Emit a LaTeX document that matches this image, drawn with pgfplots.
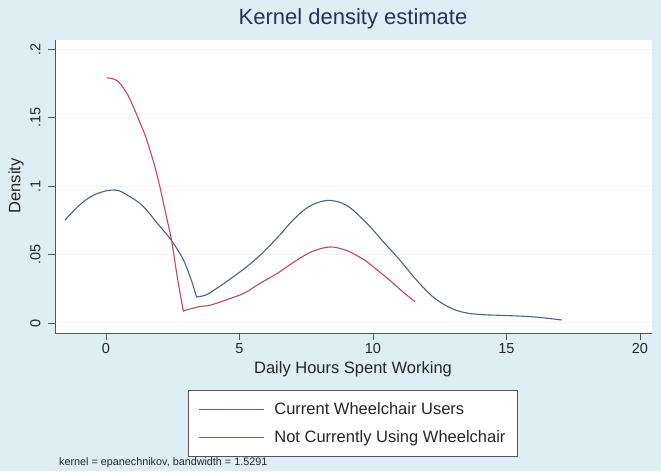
\documentclass[border=0pt]{standalone}
\usepackage{fontspec}
\setmainfont{Liberation Sans}
\usepackage{pgfplots}
\pgfplotsset{compat=1.18}
\definecolor{bgc}{RGB}{221,239,245}
\definecolor{sblue}{RGB}{75,98,142}
\definecolor{sred}{RGB}{192,75,88}
\definecolor{gridc}{RGB}{240,245,247}
\definecolor{axc}{RGB}{85,85,85}
\definecolor{titc}{RGB}{35,52,95}
\begin{document}
\begin{tikzpicture}[x=1pt,y=1pt]
\fill[bgc] (0,0) rectangle (661,471);
\useasboundingbox (0,0) rectangle (661,471);
\fill[white] (55,138) rectangle (652,431);
\begin{axis}[
  at={(55pt,138pt)}, anchor=south west,
  scale only axis, width=597pt, height=293pt,
  xmin=-1.91, xmax=20.45, ymin=-0.0073, ymax=0.2066,
  axis x line*=bottom, axis y line*=left,
  axis line style={-, axc, line width=0.9pt},
  tick align=outside, major tick length=7pt,
  tick style={axc, line width=0.9pt},
  xtick={0,5,10,15,20}, xticklabels={0,5,10,15,20},
  ytick={0,0.05,0.1,0.15,0.2}, yticklabels={0,.05,.1,.15,.2},
  /pgf/number format/assume math mode=true,
  ticklabel style={font=\fontsize{14.5}{16}\selectfont, text=black!85},
  yticklabel style={rotate=90, anchor=south},
  yticklabel shift=4pt,
  ymajorgrids, major grid style={gridc, line width=1pt},
  legend style={at={(0.499,-0.1945)}, anchor=north, draw=axc, line width=0.9pt,
    fill=white, font=\fontsize{16.5}{19}\selectfont, text=black!85,
    inner xsep=10pt, inner ysep=10pt, row sep=11pt, column sep=8pt,
    nodes={inner sep=2pt}},
  legend cell align=left,
  legend image code/.code={\draw[#1] (0pt,0pt) -- (65pt,0pt);},
]
\addplot[sblue, line width=1.1pt, smooth, tension=0.55] coordinates {
(-1.54,0.075) (-1.0,0.086) (-0.5,0.093) (0.0,0.0965) (0.2,0.097) (0.5,0.0965)
(1.0,0.091) (1.4,0.085) (2.0,0.071) (2.46,0.060) (2.9,0.046) (3.2,0.031)
(3.36,0.021) (3.40,0.019) (3.45,0.0192) (3.8,0.021) (4.5,0.030) (5.2,0.040) (5.8,0.050) (6.5,0.064)
(7.0,0.075) (7.6,0.085) (8.3,0.0895) (9.0,0.086) (9.76,0.073) (10.4,0.059)
(11.0,0.046) (11.6,0.032) (12.25,0.019) (12.9,0.011) (13.5,0.0073) (14.2,0.006)
(14.76,0.0056) (16.0,0.0045) (17.07,0.0022)
};
\addlegendentry{Current Wheelchair Users}
\addplot[sred, line width=1.1pt, smooth, tension=0.55] coordinates {
(0.02,0.179) (0.3,0.178) (0.52,0.175) (0.8,0.167) (1.02,0.158) (1.3,0.145)
(1.52,0.134) (1.9,0.109) (2.27,0.077) (2.46,0.060) (2.65,0.036) (2.86,0.0125) (2.90,0.009)
(2.96,0.0092) (3.5,0.012) (3.9,0.013) (4.52,0.017) (5.2,0.022) (5.77,0.029) (6.4,0.036)
(7.0,0.044) (7.7,0.052) (8.39,0.0555) (9.0,0.053) (9.51,0.048) (9.76,0.045)
(10.2,0.038) (10.64,0.031) (11.1,0.023) (11.57,0.0156)
};
\addlegendentry{Not Currently Using Wheelchair}
\end{axis}
\node[titc, font=\fontsize{22}{26}\selectfont] at (353,452) {Kernel density estimate};
\node[black!85, font=\fontsize{16.5}{19}\selectfont] at (353,102) {Daily Hours Spent Working};
\node[black!85, rotate=90, font=\fontsize{16.5}{19}\selectfont] at (16,285) {Density};
\node[black!85, anchor=west, inner sep=0pt, font=\fontsize{10.8}{13}\selectfont] at (59,8) {kernel = epanechnikov, bandwidth = 1.5291};
\end{tikzpicture}
\end{document}
